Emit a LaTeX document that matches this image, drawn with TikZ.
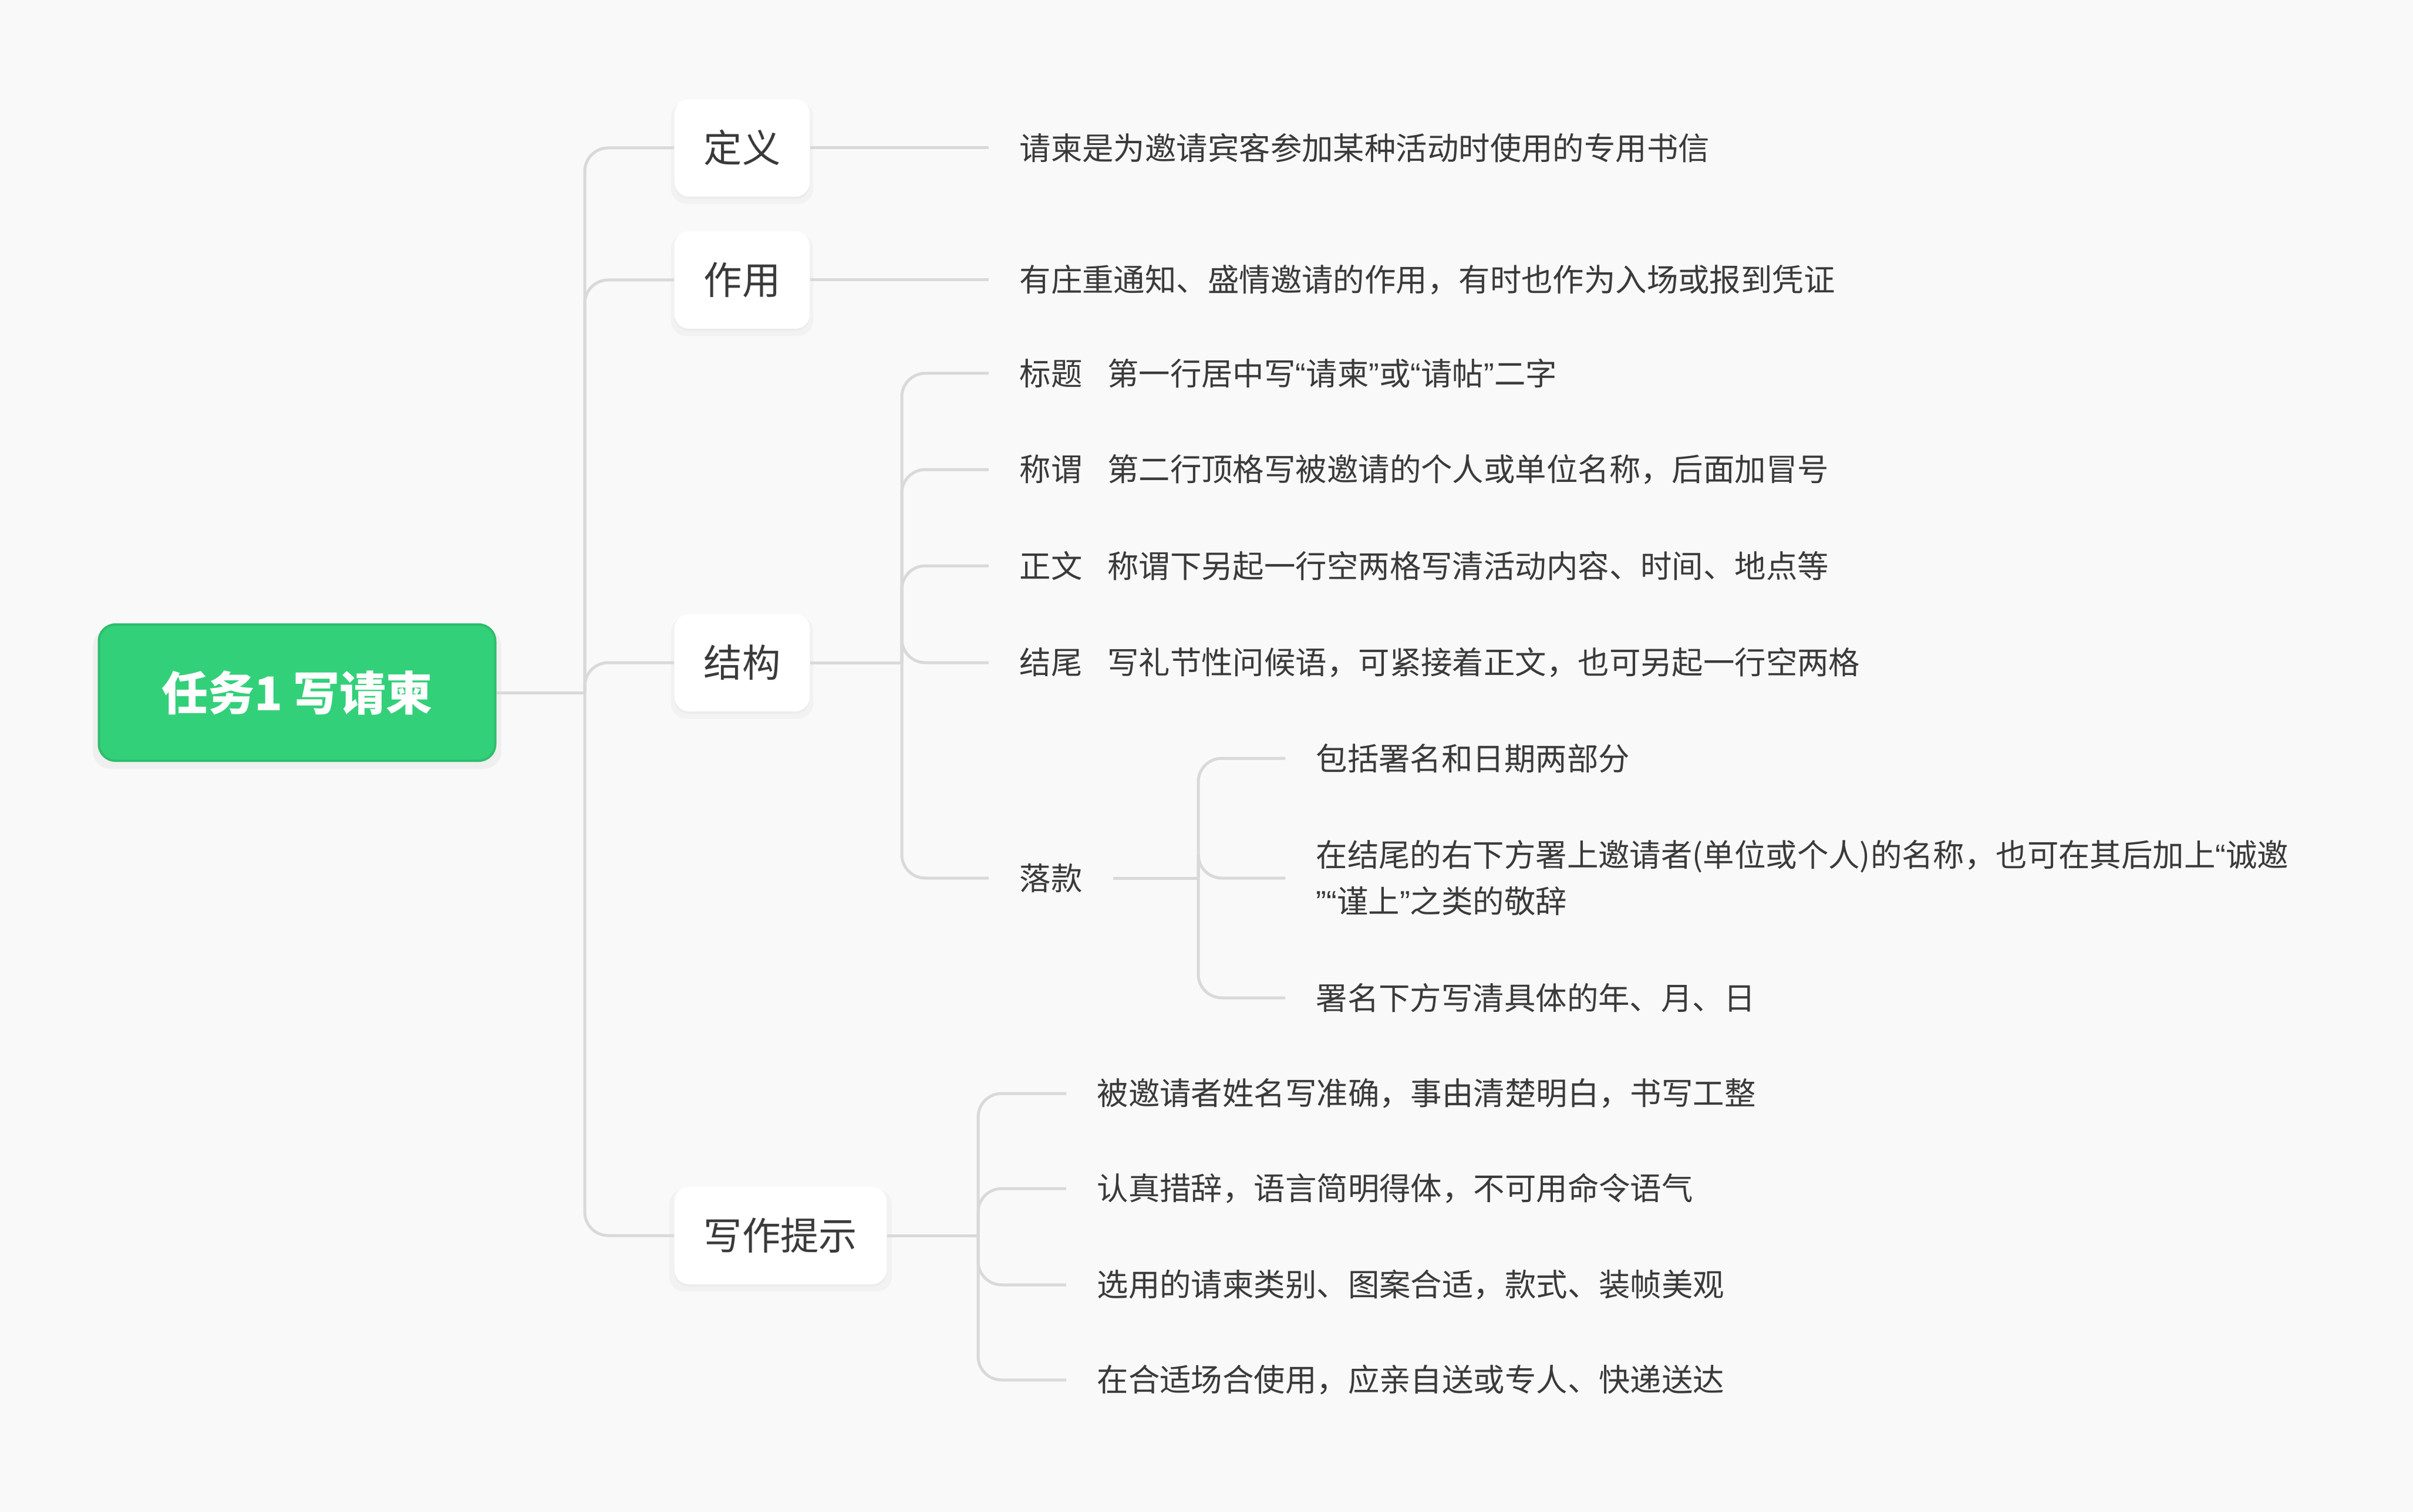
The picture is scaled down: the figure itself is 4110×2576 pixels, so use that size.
\documentclass[tikz,border=0pt]{standalone}
\usepackage{fontspec}
\setmainfont{Noto Sans CJK SC}
\newfontfamily\quotefont{Liberation Sans}
\newcommand{\oq}{{\quotefont “}}
\newcommand{\cq}{{\quotefont ”}}
\usetikzlibrary{shadows}
\definecolor{bgcol}{RGB}{249,249,249}
\definecolor{linecol}{RGB}{217,217,217}
\definecolor{txtcol}{RGB}{58,58,58}
\definecolor{rootgreen}{RGB}{51,208,122}
\definecolor{rootedge}{RGB}{46,190,108}
\tikzset{
  root/.style={fill=rootgreen, draw=rootedge, line width=0.4mm, rounded corners=2.8mm,
    minimum width=67.5mm, minimum height=23.2mm, text=white,
    font=\fontsize{22.5}{26}\selectfont\bfseries,
    drop shadow={shadow xshift=0mm, shadow yshift=-1mm, opacity=0.08, shadow scale=1.03}},
  branch/.style={anchor=west, fill=white, rounded corners=2.5mm, minimum height=16.6mm,
    inner xsep=5mm, text=txtcol, font=\fontsize{18.6}{22}\selectfont,
    drop shadow={shadow xshift=0mm, shadow yshift=-0.8mm, opacity=0.05, shadow scale=1.05},
    drop shadow={shadow xshift=0mm, shadow yshift=-0.4mm, opacity=0.05}},
  leaf/.style={anchor=west, inner xsep=5.2mm, inner ysep=0pt, align=left, text=txtcol,
    font=\fontsize{15.2}{22.5}\selectfont},
  link/.style={draw=linecol, line width=0.5mm, rounded corners=4mm},
}
\begin{document}
\begin{tikzpicture}[x=0.1mm,y=-0.1mm]
  \fill[bgcol] (0,0) rectangle (4110,2576);
  \node[root] (task) at (506,1180) {任务1 写请柬};
  \node[branch] (dingyi) at (1148,252) {定义};
  \node[branch] (zuoyong) at (1148,477) {作用};
  \node[branch] (jiegou) at (1148,1129) {结构};
  \node[branch] (tishi) at (1148,2105) {写作提示};
  \node[leaf] (dydesc) at (1684,252) {请柬是为邀请宾客参加某种活动时使用的专用书信};
  \node[leaf] (zydesc) at (1684,477) {有庄重通知、盛情邀请的作用，有时也作为入场或报到凭证};
  \node[leaf] (biaoti) at (1684,636) {标题\hspace{0.8em}第一行居中写\oq 请柬\cq 或\oq 请帖\cq 二字};
  \node[leaf] (chengwei) at (1684,800) {称谓\hspace{0.8em}第二行顶格写被邀请的个人或单位名称，后面加冒号};
  \node[leaf] (zhengwen) at (1684,964) {正文\hspace{0.8em}称谓下另起一行空两格写清活动内容、时间、地点等};
  \node[leaf] (jiewei) at (1684,1129) {结尾\hspace{0.8em}写礼节性问候语，可紧接着正文，也可另起一行空两格};
  \node[leaf] (luokuan) at (1684,1496) {落款};
  \node[leaf] (lk1) at (2189,1292) {包括署名和日期两部分};
  \node[leaf] (lk2) at (2189,1496) {在结尾的右下方署上邀请者(单位或个人)的名称，也可在其后加上\oq 诚邀\\\cq\oq 谨上\cq 之类的敬辞};
  \node[leaf] (lk3) at (2189,1700) {署名下方写清具体的年、月、日};
  \node[leaf] (ts1) at (1816,1863) {被邀请者姓名写准确，事由清楚明白，书写工整};
  \node[leaf] (ts2) at (1816,2025) {认真措辞，语言简明得体，不可用命令语气};
  \node[leaf] (ts3) at (1816,2189) {选用的请柬类别、图案合适，款式、装帧美观};
  \node[leaf] (ts4) at (1816,2351) {在合适场合使用，应亲自送或专人、快递送达};
  \coordinate (rootfork) at (996,1180);
  \coordinate (jgfork) at (1536,1129);
  \coordinate (lkfork) at (2041,1496);
  \coordinate (tsfork) at (1666,2105);
  \draw[link] (task.east) -- (rootfork);
  \foreach \b in {dingyi,zuoyong,jiegou,tishi}
    \draw[link] (rootfork) |- (\b.west);
  \draw[link] (dingyi.east) -- (dydesc.west);
  \draw[link] (zuoyong.east) -- (zydesc.west);
  \draw[link] (jiegou.east) -- (jgfork);
  \foreach \b in {biaoti,chengwei,zhengwen,jiewei,luokuan}
    \draw[link] (jgfork) |- (\b.west);
  \draw[link] (luokuan.east) -- (lkfork);
  \foreach \b in {lk1,lk2,lk3}
    \draw[link] (lkfork) |- (\b.west);
  \draw[link] (tishi.east) -- (tsfork);
  \foreach \b in {ts1,ts2,ts3,ts4}
    \draw[link] (tsfork) |- (\b.west);
\end{tikzpicture}
\end{document}
